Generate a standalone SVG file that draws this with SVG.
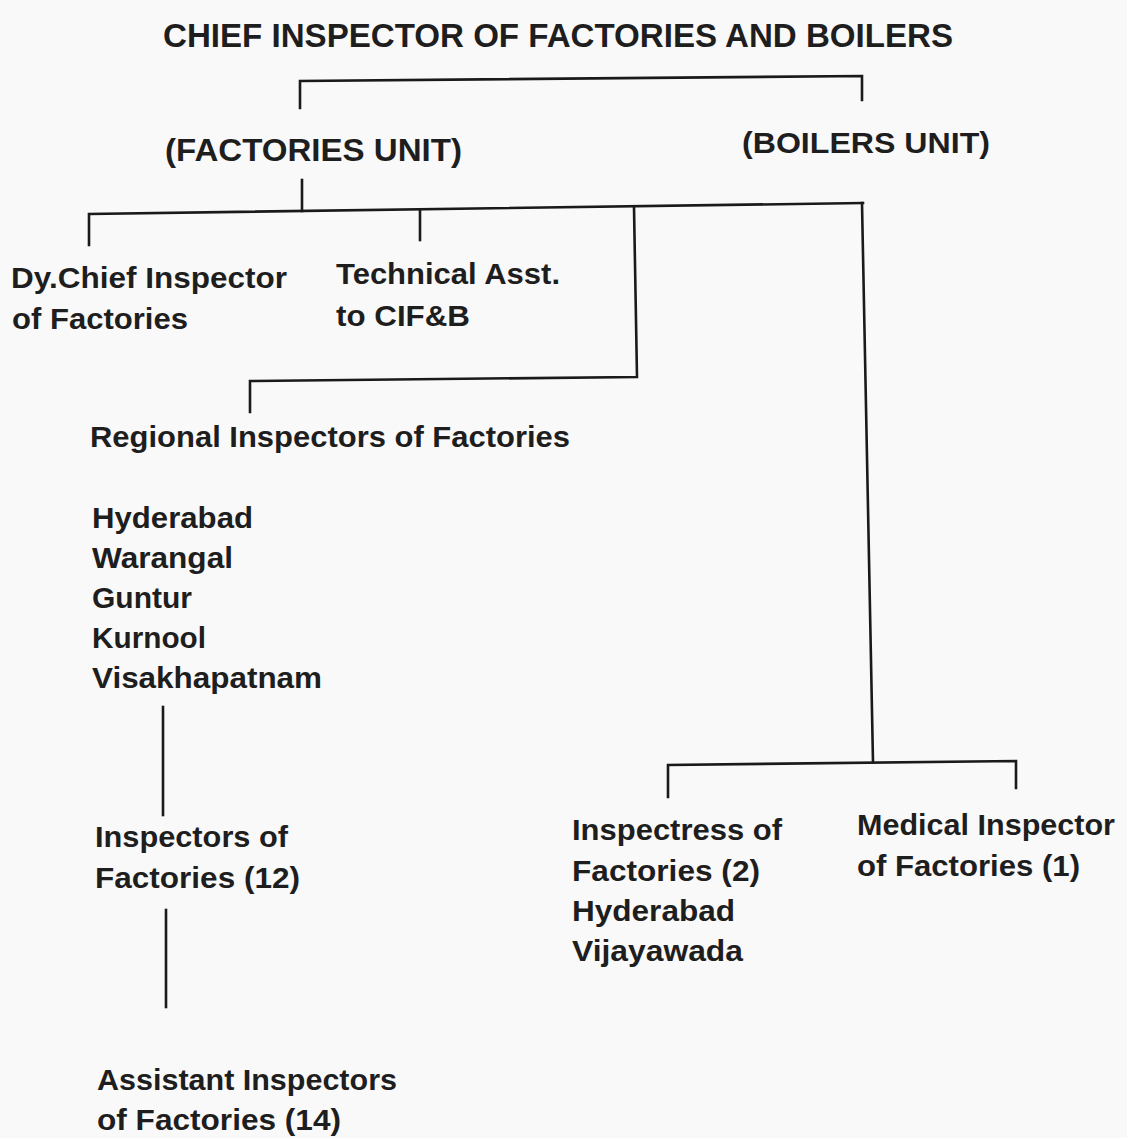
<svg xmlns="http://www.w3.org/2000/svg" width="1127" height="1138" viewBox="0 0 1127 1138">
<style>
  .t { font-family: "Liberation Sans", Arial, sans-serif; font-weight: bold; fill: #1e1e1e; }
  .b { font-size: 29px; }
  .l { fill: none; stroke: #1a1a1a; stroke-width: 2.6; stroke-linejoin: miter; stroke-linecap: square; }
</style>
<rect x="0" y="0" width="1127" height="1138" fill="#faf9f9"/>
<g id="connectors">
  <path class="l" d="M300,108 V81 L862,76 V100"/>
  <path class="l" d="M302,180 V211"/>
  <path class="l" d="M89,245 V214 L863,203"/>
  <path class="l" d="M420,211 V240"/>
  <path class="l" d="M634,207 L637,377 L250,381 V412"/>
  <path class="l" d="M862,203 L873,762"/>
  <path class="l" d="M668,797 V765 L1016,761 V788"/>
  <path class="l" d="M163,707 V815"/>
  <path class="l" d="M166,910 V1007"/>
</g>
<g id="chief">
  <text class="t" x="163" y="47" font-size="33" textLength="790" lengthAdjust="spacingAndGlyphs">CHIEF INSPECTOR OF FACTORIES AND BOILERS</text>
</g>
<g id="factories-unit">
  <text class="t" x="165" y="161" font-size="31" textLength="297" lengthAdjust="spacingAndGlyphs">(FACTORIES UNIT)</text>
</g>
<g id="boilers-unit">
  <text class="t" x="742" y="153" font-size="30" textLength="248" lengthAdjust="spacingAndGlyphs">(BOILERS UNIT)</text>
</g>
<g id="dy-chief">
  <text class="t b" x="11" y="288" textLength="276" lengthAdjust="spacingAndGlyphs">Dy.Chief Inspector</text>
  <text class="t b" x="12" y="329" textLength="176" lengthAdjust="spacingAndGlyphs">of Factories</text>
</g>
<g id="technical-asst">
  <text class="t b" x="336" y="284" textLength="224" lengthAdjust="spacingAndGlyphs">Technical Asst.</text>
  <text class="t b" x="336" y="326" textLength="134" lengthAdjust="spacingAndGlyphs">to CIF&amp;B</text>
</g>
<g id="regional">
  <text class="t b" x="90" y="447" textLength="480" lengthAdjust="spacingAndGlyphs">Regional Inspectors of Factories</text>
  <text class="t b" x="92" y="528" textLength="161" lengthAdjust="spacingAndGlyphs">Hyderabad</text>
  <text class="t b" x="92" y="568" textLength="141" lengthAdjust="spacingAndGlyphs">Warangal</text>
  <text class="t b" x="92" y="608" textLength="100" lengthAdjust="spacingAndGlyphs">Guntur</text>
  <text class="t b" x="92" y="648" textLength="114" lengthAdjust="spacingAndGlyphs">Kurnool</text>
  <text class="t b" x="92" y="688" textLength="230" lengthAdjust="spacingAndGlyphs">Visakhapatnam</text>
</g>
<g id="inspectors">
  <text class="t b" x="95" y="847" textLength="193" lengthAdjust="spacingAndGlyphs">Inspectors of</text>
  <text class="t b" x="95" y="888" textLength="205" lengthAdjust="spacingAndGlyphs">Factories (12)</text>
</g>
<g id="assistant">
  <text class="t b" x="97" y="1090" textLength="300" lengthAdjust="spacingAndGlyphs">Assistant Inspectors</text>
  <text class="t b" x="97" y="1130" textLength="244" lengthAdjust="spacingAndGlyphs">of Factories (14)</text>
</g>
<g id="inspectress">
  <text class="t b" x="572" y="840" textLength="210" lengthAdjust="spacingAndGlyphs">Inspectress of</text>
  <text class="t b" x="572" y="881" textLength="188" lengthAdjust="spacingAndGlyphs">Factories (2)</text>
  <text class="t b" x="572" y="921" textLength="163" lengthAdjust="spacingAndGlyphs">Hyderabad</text>
  <text class="t b" x="572" y="961" textLength="171" lengthAdjust="spacingAndGlyphs">Vijayawada</text>
</g>
<g id="medical">
  <text class="t b" x="857" y="835" textLength="258" lengthAdjust="spacingAndGlyphs">Medical Inspector</text>
  <text class="t b" x="857" y="876" textLength="223" lengthAdjust="spacingAndGlyphs">of Factories (1)</text>
</g>
</svg>
